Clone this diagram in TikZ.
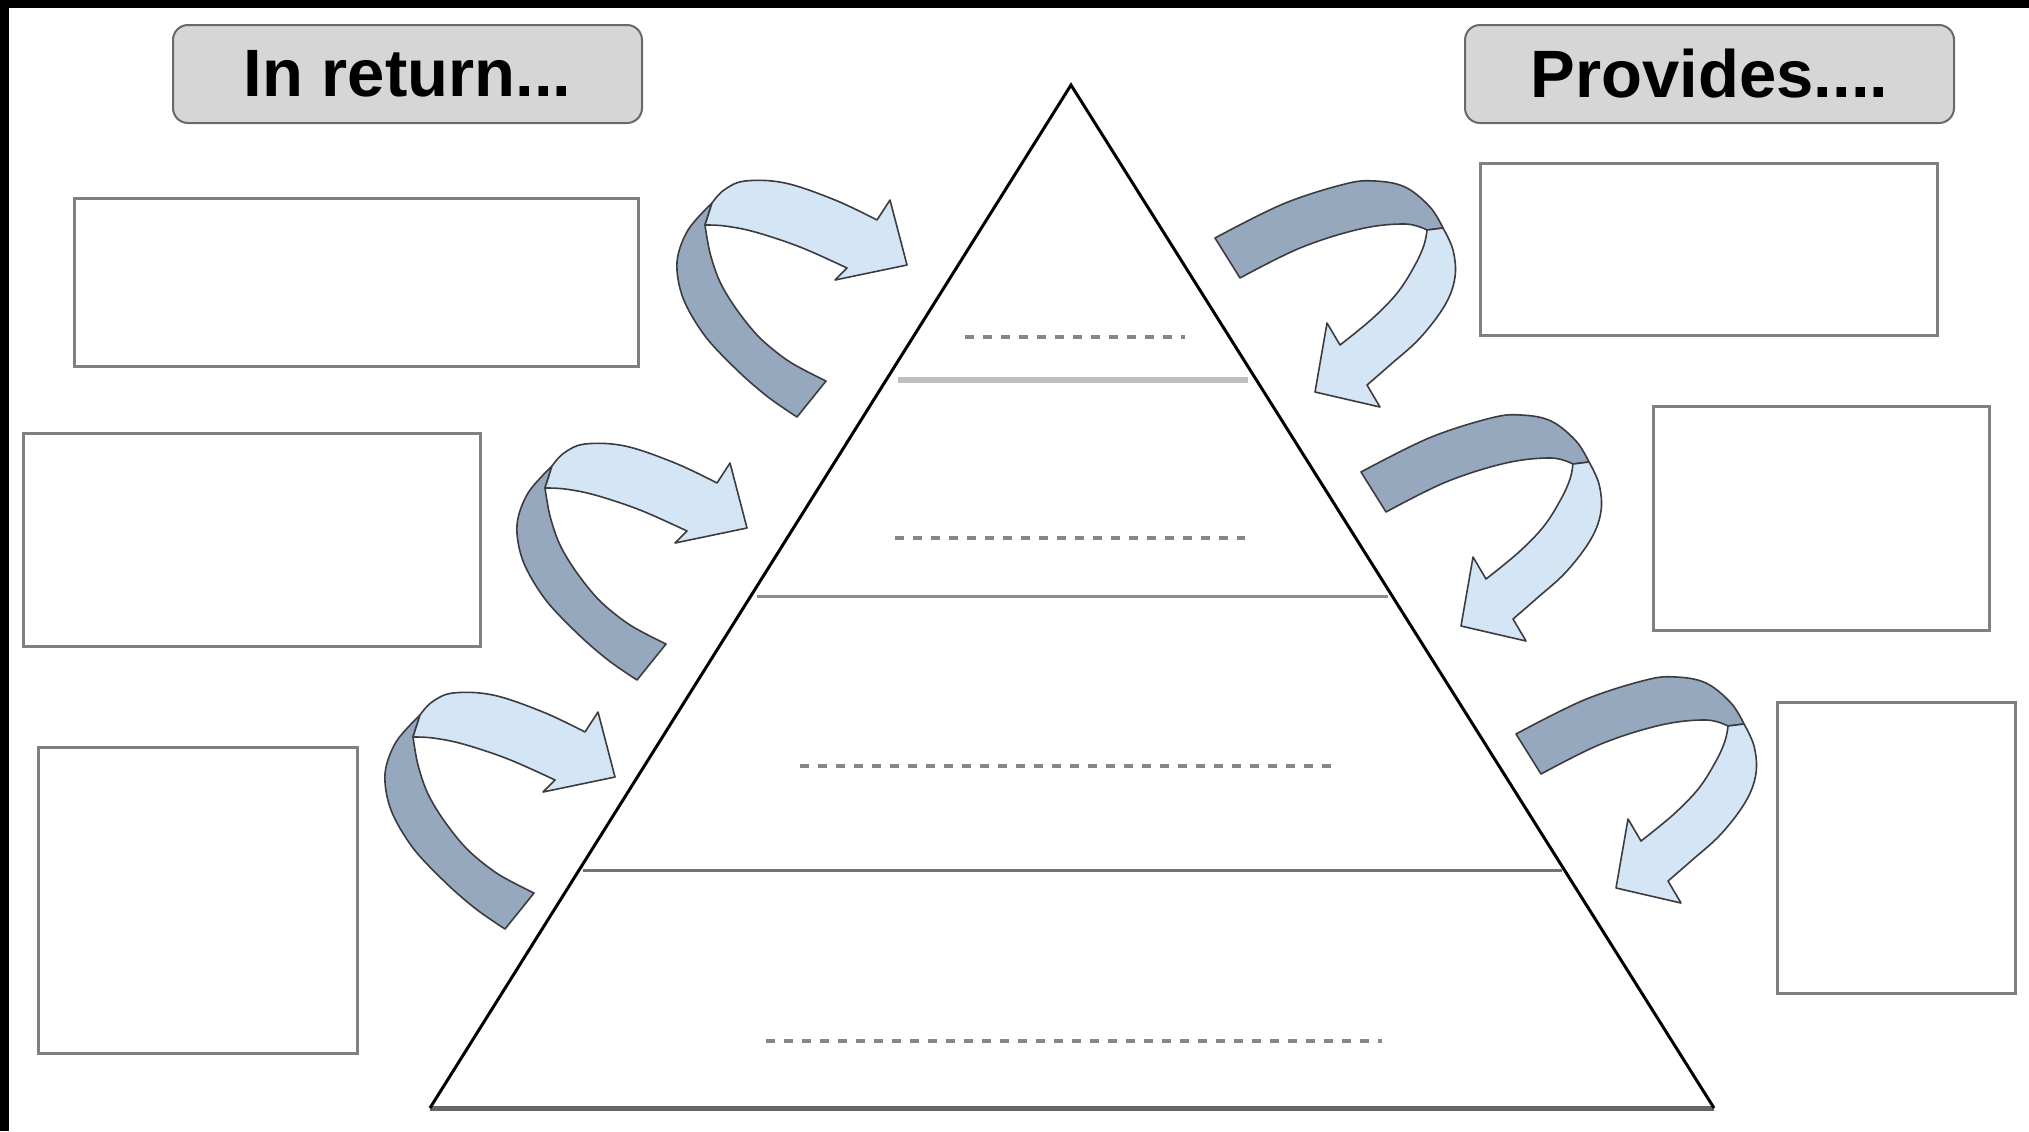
\documentclass[tikz,border=0pt]{standalone}
\usepackage{fontspec}
\setmainfont{Liberation Sans}
\definecolor{bandDark}{RGB}{150,168,190}
\definecolor{bandLight}{RGB}{212,229,246}
\definecolor{outlineC}{RGB}{60,60,64}
\definecolor{headerFill}{RGB}{214,214,214}
\definecolor{headerDraw}{RGB}{105,105,105}
\definecolor{boxDraw}{RGB}{128,128,128}
\definecolor{dotC}{RGB}{135,135,135}
\begin{document}
\begin{tikzpicture}[x=0.5pt,y=-0.5pt,
  header/.style={draw=headerDraw, fill=headerFill, rounded corners=7.5pt, line width=1pt,
    font=\fontsize{33.5}{40}\selectfont\bfseries, inner sep=0pt, text=black},
  blankbox/.style={draw=boxDraw, fill=white, line width=1.5pt, inner sep=0pt},
  triside/.style={draw=black, line width=1.5pt, line join=miter},
  tribase/.style={draw=black!60, line width=2.5pt},
  divlight/.style={draw=black!25, line width=3pt},
  divmid/.style={draw=black!45, line width=1.5pt},
  divdark/.style={draw=black!55, line width=1.5pt},
  dots/.style={draw=dotC, line width=2pt, dash pattern=on 4.5pt off 4.5pt},
  darkband/.style={fill=bandDark, draw=outlineC, line width=0.8pt, line join=round},
  lightband/.style={fill=bandLight, draw=outlineC, line width=0.8pt, line join=round}]
\useasboundingbox (0,0) rectangle (2029,1131);
\fill[white] (0,0) rectangle (2029,1131);
\fill[black] (0,0) rectangle (2029,8);
\fill[black] (0,0) rectangle (9,1131);

% headers
\node[header, minimum width=234.5pt, minimum height=49pt] (hleft) at (407.5,74) {In return...};
\node[header, minimum width=244.5pt, minimum height=49pt] (hright) at (1709.5,74) {Provides....};

% blank boxes
\node[blankbox, minimum width=282pt, minimum height=84pt] (lb1) at (356,282) {};
\node[blankbox, minimum width=228.5pt, minimum height=106.5pt] (lb2) at (251.5,539.5) {};
\node[blankbox, minimum width=159.5pt, minimum height=153pt] (lb3) at (197.5,900) {};
\node[blankbox, minimum width=228.5pt, minimum height=86pt] (rb1) at (1708.5,249) {};
\node[blankbox, minimum width=168pt, minimum height=112pt] (rb2) at (1821,518) {};
\node[blankbox, minimum width=119pt, minimum height=145.5pt] (rb3) at (1896,847.5) {};

% pyramid
\coordinate (apex) at (1071,85);
\coordinate (bl) at (430,1108);
\coordinate (br) at (1714,1108);
\draw[divlight] (898,380) -- (1248,380);
\draw[divmid] (757,596) -- (1388,596);
\draw[divdark] (583,870) -- (1562,870);
\draw[dots] (965,337) -- (1185,337);
\draw[dots] (895,538) -- (1245,538);
\draw[dots] (800,766) -- (1340,766);
\draw[dots] (766,1041) -- (1382,1041);
\draw[tribase] (bl) -- (br);
\draw[triside] (bl) -- (apex) -- (br);

% left curved arrows
\foreach \dx/\dy in {0/0, -160/263, -292/512}{
\begin{scope}[shift={(\dx,\dy)}]
  \path[darkband] plot[smooth, tension=0.55] coordinates {(712,203) (688,230) (677,262) (683,298) (705,336) (738,371) (768,397) (797,417)}
    -- plot[smooth, tension=0.55] coordinates {(826,381) (790,362) (760,338) (737,310) (720,282) (710,253) (705,225)} -- cycle;
  \path[lightband] plot[smooth, tension=0.6] coordinates {(712,203) (724,190) (745,181) (785,183) (835,200) (877,220)}
    -- (890,200) -- (907,265) -- (835,280)
    -- plot[smooth, tension=0.6] coordinates {(847,268) (800,247) (755,232) (725,226) (705,225)} -- cycle;
\end{scope}}

% right curved arrows
\foreach \dx/\dy in {0/0, 146/234, 301/496}{
\begin{scope}[shift={(\dx,\dy)}]
  \path[darkband] plot[smooth, tension=0.6] coordinates {(1443,228) (1430,207) (1405,187) (1375,181) (1345,184) (1283,204) (1215,238)}
    -- plot[smooth, tension=0.6] coordinates {(1240,278) (1300,248) (1360,229) (1405,224) (1427,230)} -- cycle;
  \path[lightband] plot[smooth, tension=0.6] coordinates {(1443,228) (1453,250) (1455,277) (1445,305) (1420,338) (1390,365) (1367,385)}
    -- (1380,407) -- (1315,392) -- (1327,323)
    -- plot[smooth, tension=0.6] coordinates {(1340,345) (1373,318) (1398,292) (1415,265) (1424,245) (1427,230)} -- cycle;
\end{scope}}
\end{tikzpicture}
\end{document}
